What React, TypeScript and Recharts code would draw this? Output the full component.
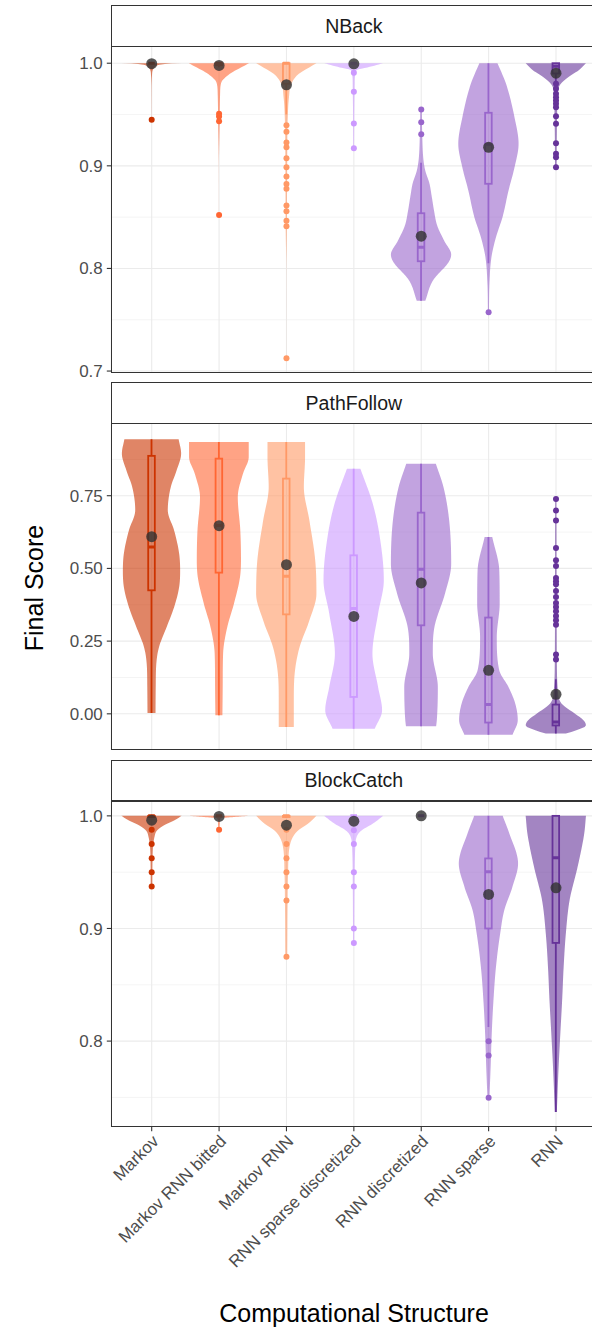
import React from "react";
import { ComposedChart, XAxis, YAxis, CartesianGrid, Bar, Scatter } from "recharts";

const FONT = "'Liberation Sans', Arial, Helvetica, sans-serif";

const categories = [
  "Markov",
  "Markov RNN bitted",
  "Markov RNN",
  "RNN sparse discretized",
  "RNN discretized",
  "RNN sparse",
  "RNN",
];

const facetNames = ["NBack", "PathFollow", "BlockCatch"];

// ---------- NBack ----------
const nbackTicks = [0.7, 0.8, 0.9, 1.0];
const nbackMinor = [0.75, 0.85, 0.95];
const nbackDomain: [number, number] = [0.6983, 1.0158];
const nbackViolinValues = [
  [0.9448, 0.97, 0.99, 0.996, 0.998, 0.9994, 1.0],
  [0.852, 0.9, 0.944, 0.97, 0.9815, 0.9864, 0.9912, 0.9961, 1.0],
  [0.7125, 0.8, 0.84, 0.9, 0.9474, 0.9669, 0.98, 0.9897, 0.996, 1.0],
  [0.917, 0.95, 0.98, 0.9932, 0.996, 1.0],
  [0.7686, 0.788, 0.807, 0.8135, 0.827, 0.842, 0.856, 0.871, 0.883, 0.895, 0.905, 0.93, 0.9549],
  [0.757, 0.785, 0.811, 0.8304, 0.85, 0.876, 0.8987, 0.9214, 0.947, 0.98, 1.0],
  [0.8987, 0.93, 0.96, 0.975, 0.98, 0.9864, 0.993, 1.0],
];
const nbackViolinDensity = [
  [0.002, 0.004, 0.02, 0.1, 0.2, 0.53, 1.0],
  [0.001, 0.002, 0.025, 0.04, 0.083, 0.223, 0.443, 0.75, 1.0],
  [0.001, 0.002, 0.02, 0.03, 0.05, 0.09, 0.167, 0.417, 0.767, 1.0],
  [0.013, 0.02, 0.033, 0.09, 0.477, 0.977],
  [0.143, 0.39, 0.933, 1.0, 0.767, 0.533, 0.433, 0.35, 0.277, 0.143, 0.083, 0.04, 0.027],
  [0.017, 0.033, 0.1, 0.25, 0.467, 0.667, 0.867, 1.0, 0.867, 0.583, 0.3],
  [0.027, 0.033, 0.05, 0.083, 0.167, 0.417, 0.75, 1.0],
];
const nbackQ1 = [1.0, 0.998, 0.98, 1.0, 0.807, 0.8825, 0.99];
const nbackMedian = [1.0, 1.0, 1.0, 1.0, 0.8207, 0.921, 0.997];
const nbackQ3 = [1.0, 1.0, 1.0, 1.0, 0.8538, 0.9517, 1.0];
const nbackWhiskerLow = [1.0, 0.996, 0.95, 1.0, 0.7686, 0.805, 0.982];
const nbackWhiskerHigh = [1.0, 1.0, 1.0, 1.0, 0.9029, 1.0, 1.0];
const nbackMean = [0.9995, 0.9978, 0.979, 0.9994, 0.8314, 0.9181, 0.9903];
const nbackOutliers = [
  [0.9448],
  [0.9507, 0.948, 0.9435, 0.8522],
  [0.9396, 0.9331, 0.9227, 0.9181, 0.9074, 0.8986, 0.8896, 0.8824, 0.8776, 0.8613, 0.8558, 0.8464, 0.8412, 0.7125],
  [0.9906, 0.9721, 0.9412, 0.9172],
  [0.9549, 0.9425, 0.9308],
  [0.7573],
  [0.9799, 0.975, 0.9702, 0.9669, 0.9636, 0.9604, 0.9571, 0.9483, 0.9409, 0.922, 0.9117, 0.9084, 0.8987],
];

// ---------- PathFollow ----------
const pathTicks = [0.0, 0.25, 0.5, 0.75];
const pathMinor = [0.125, 0.375, 0.625, 0.875];
const pathDomain: [number, number] = [-0.1237, 0.9966];
const pathViolinValues = [
  [0.003, 0.092, 0.173, 0.23, 0.298, 0.367, 0.436, 0.493, 0.551, 0.631, 0.7, 0.78, 0.837, 0.895, 0.944],
  [-0.005, 0.1, 0.207, 0.298, 0.379, 0.47, 0.528, 0.631, 0.7455, 0.826, 0.883, 0.935],
  [-0.045, 0.046, 0.1496, 0.23, 0.3215, 0.413, 0.528, 0.665, 0.78, 0.883, 0.935],
  [-0.051, 0.012, 0.092, 0.207, 0.3445, 0.459, 0.608, 0.723, 0.843],
  [-0.043, -0.022, 0.092, 0.207, 0.298, 0.413, 0.516, 0.665, 0.78, 0.86],
  [-0.072, -0.022, 0.035, 0.092, 0.1496, 0.264, 0.379, 0.493, 0.608],
  [-0.068, -0.057, -0.04, -0.022, 0.0007, 0.035, 0.08, 0.2, 0.4, 0.6, 0.7387],
];
const pathViolinDensity = [
  [0.133, 0.14, 0.16, 0.25, 0.5, 0.75, 0.917, 0.95, 0.917, 0.75, 0.54, 0.64, 0.833, 0.983, 0.9],
  [0.117, 0.127, 0.14, 0.277, 0.5, 0.7, 0.733, 0.71, 0.627, 0.8, 0.99, 0.99],
  [0.25, 0.25, 0.29, 0.443, 0.767, 1.0, 0.96, 0.767, 0.583, 0.623, 0.623],
  [0.7, 0.943, 0.81, 0.623, 0.81, 1.0, 0.867, 0.633, 0.223],
  [0.5, 0.523, 0.557, 0.39, 0.443, 0.793, 1.0, 0.933, 0.743, 0.49],
  [0.8, 0.973, 0.89, 0.667, 0.36, 0.277, 0.373, 0.36, 0.127],
  [0.333, 0.667, 1.0, 0.917, 0.633, 0.193, 0.067, 0.033, 0.027, 0.023, 0.02],
];
const pathQ1 = [0.4247, 0.4855, 0.342, 0.058, 0.3043, -0.03, -0.04];
const pathMedian = [0.5736, 0.648, 0.473, 0.3618, 0.497, 0.0318, -0.028];
const pathQ3 = [0.887, 0.8775, 0.8088, 0.545, 0.6918, 0.331, 0.0318];
const pathWhiskerLow = [0.003, -0.005, -0.045, -0.051, -0.043, -0.072, -0.068];
const pathWhiskerHigh = [0.944, 0.935, 0.935, 0.843, 0.86, 0.608, 0.1186];
const pathMean = [0.6093, 0.647, 0.513, 0.335, 0.45, 0.1496, 0.067];
const pathOutliers = [
  [],
  [],
  [],
  [],
  [],
  [],
  [0.7387, 0.6988, 0.6644, 0.5702, 0.5279, 0.5083, 0.467, 0.4556, 0.4453, 0.4223, 0.4016, 0.381, 0.3673, 0.3525, 0.3363, 0.3215, 0.3067, 0.2036, 0.1864],
];

// ---------- BlockCatch ----------
const blockTicks = [0.8, 0.9, 1.0];
const blockMinor = [0.75, 0.85, 0.95];
const blockDomain: [number, number] = [0.7239, 1.0132];
const blockViolinValues = [
  [0.9373, 0.96, 0.9814, 0.987, 0.9917, 0.996, 1.0],
  [0.9876, 0.995, 0.998, 0.9986, 1.0],
  [0.8748, 0.92, 0.95, 0.9725, 0.9814, 0.987, 0.9932, 1.0],
  [0.8872, 0.94, 0.97, 0.9814, 0.987, 0.9932, 1.0],
  [],
  [0.7496, 0.7771, 0.8067, 0.8363, 0.8659, 0.8956, 0.9163, 0.9373, 0.9577, 0.9844, 1.0],
  [0.7371, 0.7771, 0.8067, 0.8363, 0.8659, 0.8956, 0.9251, 0.9547, 0.9844, 1.0],
];
const blockViolinDensity = [
  [0.027, 0.033, 0.1, 0.183, 0.417, 0.75, 1.0],
  [0.017, 0.033, 0.067, 0.333, 0.967],
  [0.033, 0.043, 0.06, 0.11, 0.223, 0.39, 0.723, 1.0],
  [0.02, 0.03, 0.05, 0.1, 0.257, 0.643, 0.977],
  [],
  [0.033, 0.073, 0.11, 0.167, 0.25, 0.39, 0.527, 0.8, 0.983, 0.693, 0.473],
  [0.033, 0.093, 0.15, 0.21, 0.26, 0.333, 0.457, 0.723, 0.943, 1.0],
];
const blockQ1 = [0.999, 1.0, 0.999, 1.0, 1.0, 0.9, 0.8872];
const blockMedian = [1.0, 1.0, 1.0, 1.0, 1.0, 0.9503, 0.9627];
const blockQ3 = [1.0, 1.0, 1.0, 1.0, 1.0, 0.9622, 1.0];
const blockWhiskerLow = [0.998, 1.0, 0.998, 1.0, 1.0, 0.8126, 0.7371];
const blockWhiskerHigh = [1.0, 1.0, 1.0, 1.0, 1.0, 1.0, 1.0];
const blockMean = [0.9962, 0.9995, 0.9917, 0.9953, 1.0, 0.9302, 0.9361];
const blockOutliers = [
  [0.9876, 0.9751, 0.9624, 0.95, 0.9373],
  [0.9876],
  [0.9876, 0.9751, 0.9624, 0.95, 0.9373, 0.9249, 0.8748],
  [0.9873, 0.9751, 0.95, 0.9373, 0.9, 0.8872],
  [],
  [0.7999, 0.7872, 0.7496],
  [],
];

// ---------- styles ----------
const strongColors = ["#CC3300", "#FF6633", "#FF9966", "#CC99FF", "#9966CC", "#9966CC", "#663399"];
const VIOLIN_ALPHA = 0.6;

type FacetSpec = {
  name: string;
  domain: [number, number];
  ticks: number[];
  minor: number[];
  digits: number;
  vv: number[][];
  vd: number[][];
  q1: number[];
  med: number[];
  q3: number[];
  wlo: number[];
  whi: number[];
  mean: number[];
  out: number[][];
};

const facets: FacetSpec[] = [
  {
    name: facetNames[0], domain: nbackDomain, ticks: nbackTicks, minor: nbackMinor, digits: 1,
    vv: nbackViolinValues, vd: nbackViolinDensity, q1: nbackQ1, med: nbackMedian, q3: nbackQ3,
    wlo: nbackWhiskerLow, whi: nbackWhiskerHigh, mean: nbackMean, out: nbackOutliers,
  },
  {
    name: facetNames[1], domain: pathDomain, ticks: pathTicks, minor: pathMinor, digits: 2,
    vv: pathViolinValues, vd: pathViolinDensity, q1: pathQ1, med: pathMedian, q3: pathQ3,
    wlo: pathWhiskerLow, whi: pathWhiskerHigh, mean: pathMean, out: pathOutliers,
  },
  {
    name: facetNames[2], domain: blockDomain, ticks: blockTicks, minor: blockMinor, digits: 1,
    vv: blockViolinValues, vd: blockViolinDensity, q1: blockQ1, med: blockMedian, q3: blockQ3,
    wlo: blockWhiskerLow, whi: blockWhiskerHigh, mean: blockMean, out: blockOutliers,
  },
];

// ---------- layout ----------
const PLOT_LEFT = 111.3;
const PLOT_W = 485.1;
const PLOT_H = 325.8;
const CHART_W = 600;
const plotTops = [46.5, 423.5, 800.8];
const STRIP_H = 40.5;
const XAXIS_H = 200;
const BOTTOM_PAD = 14;
const BAND_PAD = 6.7;
const TICK_FS = 17;

// monotone cubic interpolation (Fritsch-Carlson)
function monotone(xs: number[], ys: number[]) {
  const n = xs.length;
  const d: number[] = [];
  const m: number[] = new Array(n).fill(0);
  for (let i = 0; i < n - 1; i++) d.push((ys[i + 1] - ys[i]) / (xs[i + 1] - xs[i] || 1e-9));
  if (n === 2) {
    m[0] = d[0];
    m[1] = d[0];
  } else {
    m[0] = d[0];
    m[n - 1] = d[n - 2];
    for (let i = 1; i < n - 1; i++) m[i] = d[i - 1] * d[i] <= 0 ? 0 : (d[i - 1] + d[i]) / 2;
    for (let i = 0; i < n - 1; i++) {
      if (d[i] === 0) {
        m[i] = 0;
        m[i + 1] = 0;
      } else {
        const a = m[i] / d[i];
        const b = m[i + 1] / d[i];
        const s = a * a + b * b;
        if (s > 9) {
          const t = 3 / Math.sqrt(s);
          m[i] = t * a * d[i];
          m[i + 1] = t * b * d[i];
        }
      }
    }
  }
  return (x: number) => {
    let i = 0;
    while (i < n - 2 && x > xs[i + 1]) i++;
    const h = xs[i + 1] - xs[i] || 1e-9;
    const t = Math.min(1, Math.max(0, (x - xs[i]) / h));
    const t2 = t * t;
    const t3 = t2 * t;
    return (
      (2 * t3 - 3 * t2 + 1) * ys[i] +
      (t3 - 2 * t2 + t) * h * m[i] +
      (-2 * t3 + 3 * t2) * ys[i + 1] +
      (t3 - t2) * h * m[i + 1]
    );
  };
}

function makeViolinShape(f: FacetSpec) {
  return (props: any) => {
    const { x, y, width, height, payload } = props;
    const i: number = payload.i;
    const [rLo, rHi] = payload.ref as [number, number];
    const top = Math.min(y, y + height);
    const bot = Math.max(y, y + height);
    const pix = (v: number) => bot - ((v - rLo) / (rHi - rLo)) * (bot - top);
    const cx = x + width / 2;
    const maxHalf = width * 0.45;
    const color = strongColors[i];
    const vals = f.vv[i];
    const dens = f.vd[i];
    let violin: React.ReactNode = null;
    if (vals.length >= 2) {
      const interp = monotone(vals, dens);
      const N = 140;
      const right: string[] = [];
      const left: string[] = [];
      const v0 = vals[0];
      const v1 = vals[vals.length - 1];
      for (let k = 0; k <= N; k++) {
        const v = v0 + ((v1 - v0) * k) / N;
        const w = Math.max(0, interp(v)) * maxHalf;
        const py = pix(v);
        right.push(`${(cx + w).toFixed(2)},${py.toFixed(2)}`);
        left.push(`${(cx - w).toFixed(2)},${py.toFixed(2)}`);
      }
      left.reverse();
      const d = "M" + right.join("L") + "L" + left.join("L") + "Z";
      violin = <path d={d} fill={color} fillOpacity={VIOLIN_ALPHA} stroke="none" />;
    }
    const bh = 3.3;
    const yq1 = pix(f.q1[i]);
    const yq3 = pix(f.q3[i]);
    const ymed = pix(f.med[i]);
    const ywl = pix(f.wlo[i]);
    const ywh = pix(f.whi[i]);
    return (
      <g>
        {violin}
        <line x1={cx} x2={cx} y1={yq3} y2={ywh} stroke={color} strokeWidth={1.8} />
        <line x1={cx} x2={cx} y1={yq1} y2={ywl} stroke={color} strokeWidth={1.8} />
        <rect x={cx - bh} y={yq3} width={bh * 2} height={Math.max(0, yq1 - yq3)} fill="none" stroke={color} strokeWidth={1.8} />
        <line x1={cx - bh} x2={cx + bh} y1={ymed} y2={ymed} stroke={color} strokeWidth={3} />
      </g>
    );
  };
}

const RotTick = (p: any) => {
  const tx = p.x + 8;
  const ty = p.y + 9;
  return (
    <text
      x={tx}
      y={ty}
      transform={`rotate(-45 ${tx} ${ty})`}
      textAnchor="end"
      fontSize={TICK_FS}
      fill="#4D4D4D"
      fontFamily={FONT}
    >
      {p.payload.value}
    </text>
  );
};

function Facet({ f, idx, showX }: { f: FacetSpec; idx: number; showX: boolean }) {
  const ref: [number, number] = [f.ticks[0], f.ticks[f.ticks.length - 1]];
  const rows = categories.map((c, i) => ({ cat: c, i, ref }));
  const order = categories.map((c, i) => ({ cat: c, v: f.mean[i] }));
  const outRows = categories.flatMap((c, i) => f.out[i].map((v) => ({ cat: c, v, i })));
  const meanRows = categories.map((c, i) => ({ cat: c, v: f.mean[i] }));
  const bottom = showX ? 0 : BOTTOM_PAD;
  const h = PLOT_H + (showX ? XAXIS_H : BOTTOM_PAD);
  return (
    <div style={{ position: "absolute", left: 0, top: plotTops[idx] }}>
      <ComposedChart
        width={CHART_W}
        height={h}
        data={rows}
        barCategoryGap={0}
        margin={{ top: 0, right: CHART_W - PLOT_LEFT - PLOT_W, bottom, left: 0 }}
      >
        <CartesianGrid horizontalValues={f.ticks} stroke="#EBEBEB" strokeWidth={1.1} />
        <CartesianGrid horizontalValues={f.minor} vertical={false} stroke="#EBEBEB" strokeWidth={0.55} />
        <XAxis
          dataKey="cat"
          type="category"
          allowDuplicatedCategory={false}
          hide={!showX}
          height={XAXIS_H}
          padding={{ left: BAND_PAD, right: BAND_PAD }}
          interval={0}
          axisLine={false}
          tickSize={4.5}
          tickLine={{ stroke: "#333333", strokeWidth: 1.1 }}
          tick={(p: any) => <RotTick {...p} />}
        />
        <YAxis
          type="number"
          domain={f.domain}
          allowDataOverflow
          ticks={f.ticks}
          interval={0}
          tickFormatter={(v: number) => v.toFixed(f.digits)}
          width={PLOT_LEFT}
          tickSize={4.5}
          tickMargin={4}
          axisLine={false}
          tickLine={{ stroke: "#333333", strokeWidth: 1.1 }}
          tick={{ fill: "#4D4D4D", fontSize: TICK_FS, fontFamily: FONT }}
        />
        <Bar dataKey="ref" shape={makeViolinShape(f)} isAnimationActive={false} />
        <Scatter data={order} dataKey="v" shape={() => <g />} isAnimationActive={false} />
        <Scatter
          data={outRows}
          dataKey="v"
          isAnimationActive={false}
          shape={(p: any) => <circle cx={p.cx} cy={p.cy} r={3} fill={strongColors[p.payload.i]} />}
        />
        <Scatter
          data={meanRows}
          dataKey="v"
          isAnimationActive={false}
          shape={(p: any) => <circle cx={p.cx} cy={p.cy} r={5.5} fill="#333333" fillOpacity={0.82} />}
        />
      </ComposedChart>
    </div>
  );
}

export default function App() {
  return (
    <div
      style={{
        position: "absolute",
        left: 0,
        top: 0,
        width: 592,
        height: 1331,
        overflow: "hidden",
        background: "#FFFFFF",
        fontFamily: FONT,
      }}
    >
      {facets.map((f, idx) => (
        <Facet key={f.name} f={f} idx={idx} showX={idx === facets.length - 1} />
      ))}
      {facets.map((f, idx) => (
        <React.Fragment key={"frame" + f.name}>
          <div
            style={{
              position: "absolute",
              left: PLOT_LEFT - 0.8,
              top: plotTops[idx] - STRIP_H - 0.8,
              width: PLOT_W + 1.6,
              height: STRIP_H + 1.6,
              boxSizing: "border-box",
              border: "1.6px solid #333333",
              background: "#FFFFFF",
              display: "flex",
              alignItems: "center",
              justifyContent: "center",
              fontSize: 19.5,
              color: "#1A1A1A",
              fontFamily: FONT,
            }}
          >
            {f.name}
          </div>
          <div
            style={{
              position: "absolute",
              left: PLOT_LEFT - 0.8,
              top: plotTops[idx] - 0.8,
              width: PLOT_W + 1.6,
              height: PLOT_H + 1.6,
              boxSizing: "border-box",
              border: "1.6px solid #333333",
              pointerEvents: "none",
            }}
          />
        </React.Fragment>
      ))}
      <svg
        width={592}
        height={1331}
        style={{ position: "absolute", left: 0, top: 0, pointerEvents: "none" }}
      >
        <text
          x={43}
          y={588}
          transform="rotate(-90 43 588)"
          textAnchor="middle"
          fontSize={25}
          fill="#000000"
          fontFamily={FONT}
        >
          Final Score
        </text>
        <text x={354} y={1322} textAnchor="middle" fontSize={25} fill="#000000" fontFamily={FONT}>
          Computational Structure
        </text>
      </svg>
    </div>
  );
}
